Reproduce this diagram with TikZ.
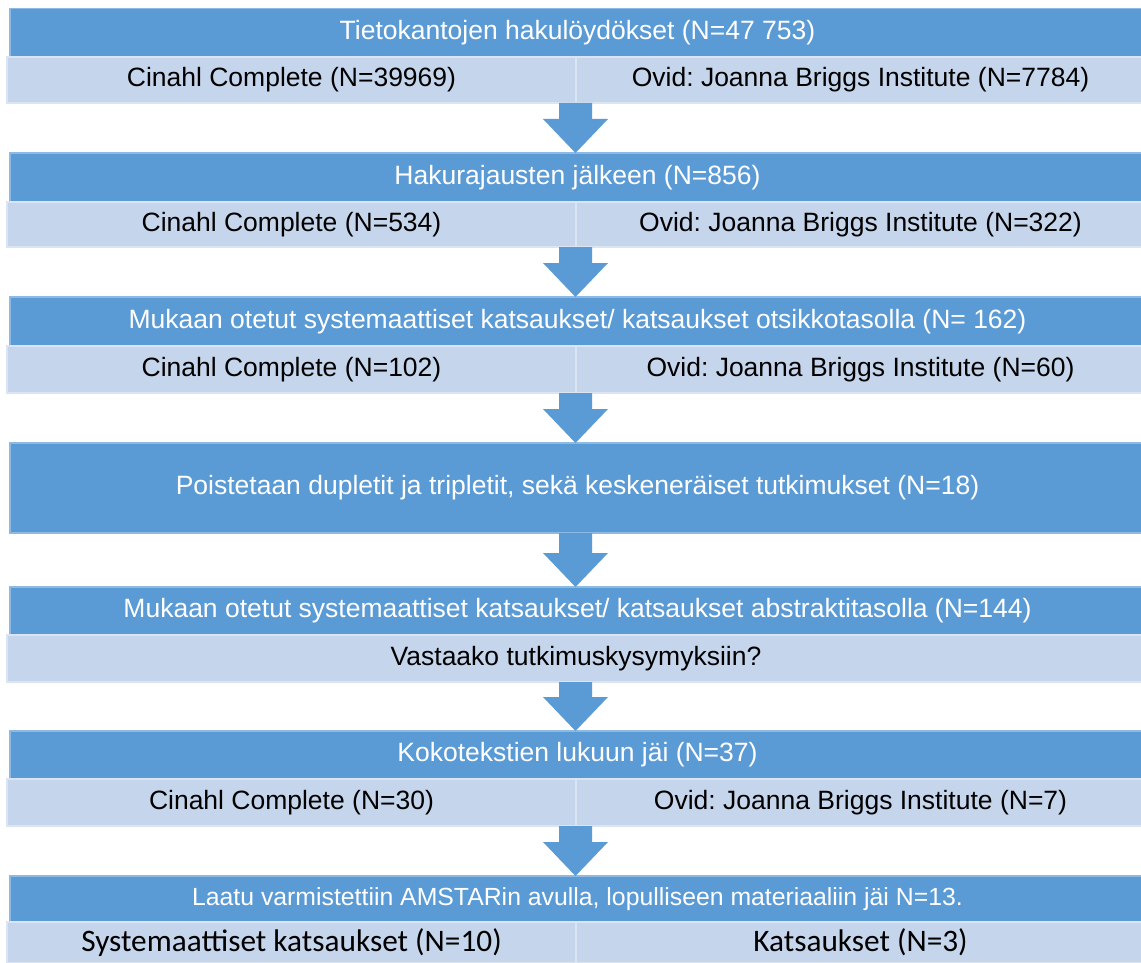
\documentclass[tikz,border=0pt]{standalone}
\usepackage{fontspec}
\setmainfont{Liberation Sans}
\newfontfamily\carlitofont{Carlito}
\usetikzlibrary{calc,positioning}
\frenchspacing
\definecolor{boxblue}{RGB}{91,155,213}
\definecolor{boxedge}{RGB}{140,186,228}
\definecolor{rowblue}{RGB}{197,214,236}
\definecolor{rowedge}{RGB}{218,228,243}
\tikzset{
  head/.style={rectangle, fill=boxblue, draw=boxedge, line width=0.6pt, text=white, minimum width=567.5pt, inner sep=0pt, outer sep=0pt, font=\fontsize{13.25}{16}\selectfont},
  cell/.style={rectangle, fill=rowblue, draw=rowedge, line width=0.8pt, text=black, anchor=north west, inner sep=0pt, outer sep=0pt, font=\fontsize{13.25}{16}\selectfont},
  leftcell/.style={cell, minimum width=284.5pt},
  rightcell/.style={cell, minimum width=284.5pt},
  fullcell/.style={cell, minimum width=569pt},
}
% block arrow on the axis, from the bottom of row #1 to the top of box #2
\newcommand{\flowarrow}[2]{%
  \fill[boxblue] ($(axis |- #1.south)+(-16.5,0)$) -- ($(axis |- #1.south)+(16.5,0)$)
    -- ($(axis |- #2.north)+(16.5,-34)$) -- ($(axis |- #2.north)+(32.5,-34)$) -- (axis |- #2.north)
    -- ($(axis |- #2.north)+(-32.5,-34)$) -- ($(axis |- #2.north)+(-16.5,-34)$) -- cycle;}

\begin{document}
\begin{tikzpicture}[x=0.5pt, y=-0.5pt, line join=miter]
    \path[use as bounding box, fill=white] (0,0) rectangle (1141,963);
    \coordinate (axis) at (575.5,0);
    % searches
    \node[head, minimum height=24.25pt] (h1) at (577.5,32.75) {Tietokantojen hakulöydökset (N=47 753)};
    \node[leftcell, minimum height=23pt] (c1) at ([xshift=-1.5pt]h1.south west) {Cinahl Complete (N=39969)};
    \node[rightcell, minimum height=23pt] (o1) at (c1.north east) {Ovid: Joanna Briggs Institute (N=7784)};
    % limits
    \node[head, minimum height=24.5pt] (h2) at (577.5,177.5) {Hakurajausten jälkeen (N=856)};
    \node[leftcell, minimum height=22.5pt] (c2) at ([xshift=-1.5pt]h2.south west) {Cinahl Complete (N=534)};
    \node[rightcell, minimum height=22.5pt] (o2) at (c2.north east) {Ovid: Joanna Briggs Institute (N=322)};
    % titles
    \node[head, minimum height=24.5pt] (h3) at (577.5,321.5) {Mukaan otetut systemaattiset katsaukset/ katsaukset otsikkotasolla (N= 162)};
    \node[leftcell, minimum height=23.5pt] (c3) at ([xshift=-1.5pt]h3.south west) {Cinahl Complete (N=102)};
    \node[rightcell, minimum height=23.5pt] (o3) at (c3.north east) {Ovid: Joanna Briggs Institute (N=60)};
    % duplicates
    \node[head, minimum height=45pt] (h4) at (577.5,488) {Poistetaan dupletit ja tripletit, sekä keskeneräiset tutkimukset (N=18)};
    % abstracts
    \node[head, minimum height=24pt] (h5) at (577.5,611) {Mukaan otetut systemaattiset katsaukset/ katsaukset abstraktitasolla (N=144)};
    \node[fullcell, minimum height=23.5pt] (q5) at ([xshift=-1.5pt]h5.south west) {Vastaako tutkimuskysymyksiin?};
    % full texts
    \node[head, minimum height=24pt] (h6) at (577.5,755) {Kokotekstien lukuun jäi (N=37)};
    \node[leftcell, minimum height=23.5pt] (c6) at ([xshift=-1.5pt]h6.south west) {Cinahl Complete (N=30)};
    \node[rightcell, minimum height=23.5pt] (o6) at (c6.north east) {Ovid: Joanna Briggs Institute (N=7)};
    % quality
    \node[head, minimum height=23pt, font=\fontsize{12.4}{15}\selectfont] (h7) at (577.5,899) {Laatu varmistettiin AMSTARin avulla, lopulliseen materiaaliin jäi N=13.};
    \node[leftcell, minimum height=20.5pt, font=\carlitofont\fontsize{15.65}{19}\selectfont] (c7) at ([xshift=-1.5pt]h7.south west) {Systemaattiset katsaukset (N=10)};
    \node[rightcell, minimum height=20.5pt, font=\carlitofont\fontsize{15.65}{19}\selectfont] (o7) at (c7.north east) {Katsaukset (N=3)};
    % arrows
    \flowarrow{c1}{h2}
    \flowarrow{c2}{h3}
    \flowarrow{c3}{h4}
    \flowarrow{h4}{h5}
    \flowarrow{q5}{h6}
    \flowarrow{c6}{h7}
\end{tikzpicture}
\end{document}
